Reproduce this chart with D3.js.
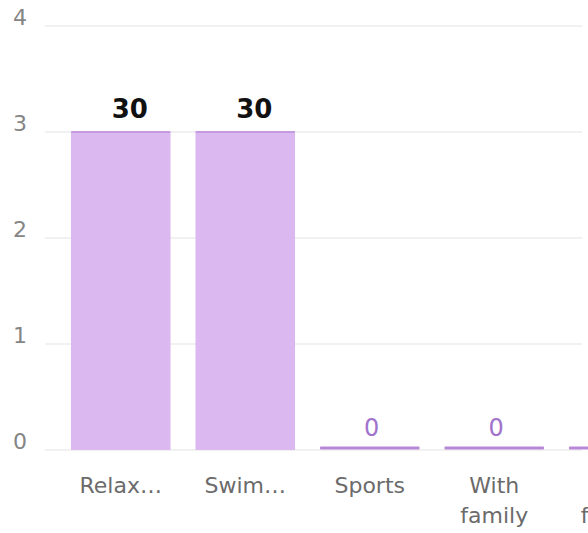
<!DOCTYPE html>
<html>
<head>
<meta charset="utf-8">
<script src="https://cdn.jsdelivr.net/npm/d3@7"></script>
<style>
  html, body { margin: 0; padding: 0; background: #ffffff; }
  svg { display: block; }
</style>
</head>
<body>
<svg id="chart" width="588" height="533"></svg>
<script>
// Activity counts per category
const categories = ["Relax…", "Swim…", "Sports", "With family", "With friends"];
const values = [30, 30, 0, 0, 0];
const tickValues = [0, 10, 20, 30, 40];
const tickLabels = ["0", "1", "2", "3", "4"];

const width = 588, height = 533;
const svg = d3.select("#chart");
const font = "'DejaVu Sans', sans-serif";

const y = d3.scaleLinear().domain([0, 40]).range([450, 26]);
const x = d3.scaleBand()
  .domain(categories)
  .range([58.5, 681])
  .paddingInner(0.2)
  .paddingOuter(0.1);

// horizontal grid lines
svg.append("g")
  .selectAll("line")
  .data(tickValues)
  .join("line")
  .attr("x1", 45)
  .attr("x2", 582)
  .attr("y1", d => y(d))
  .attr("y2", d => y(d))
  .attr("stroke", "#ededed")
  .attr("stroke-width", 1.5);

// y-axis labels
const yAxis = d3.axisLeft(y)
  .tickValues(tickValues)
  .tickFormat((d, i) => tickLabels[i])
  .tickSize(0)
  .tickPadding(0);
const yg = svg.append("g").attr("transform", "translate(20,0)").call(yAxis);
yg.select(".domain").remove();
yg.selectAll("text")
  .attr("text-anchor", "middle")
  .attr("x", 0)
  .attr("dy", "-0.05em")
  .attr("fill", "#858585")
  .style("font-family", font)
  .style("font-size", "22px");

// bars
const bars = svg.append("g");
bars.selectAll("rect.bar")
  .data(values)
  .join("rect")
  .attr("class", "bar")
  .attr("x", (d, i) => x(categories[i]))
  .attr("width", x.bandwidth())
  .attr("y", d => y(d))
  .attr("height", d => y(0) - y(d))
  .attr("fill", "#dcb8f0");

// darker cap on each bar top (visible as a thin line for zero values)
bars.selectAll("rect.cap")
  .data(values)
  .join("rect")
  .attr("class", "cap")
  .attr("x", (d, i) => x(categories[i]))
  .attr("width", x.bandwidth())
  .attr("y", d => (d > 0 ? y(d) - 1 : y(d) - 3.5))
  .attr("height", d => (d > 0 ? 2 : 3))
  .attr("rx", 1)
  .attr("fill", d => (d > 0 ? "#c59ae0" : "#b888d8"));

// value labels
svg.append("g")
  .selectAll("text")
  .data(values)
  .join("text")
  .attr("x", (d, i) => x(categories[i]) + x.bandwidth() / 2 + (d > 0 ? 9 : 2))
  .attr("y", d => y(d) - 14)
  .attr("text-anchor", "middle")
  .attr("fill", d => (d > 0 ? "#111111" : "#a273cc"))
  .style("font-family", font)
  .style("font-weight", d => (d > 0 ? "bold" : "normal"))
  .style("font-size", d => (d > 0 ? "26px" : "24px"))
  .text(d => d);

// category labels, wrapped on spaces
const xl = svg.append("g")
  .selectAll("text")
  .data(categories)
  .join("text")
  .attr("x", d => x(d) + x.bandwidth() / 2)
  .attr("y", 493)
  .attr("text-anchor", "middle")
  .attr("fill", "#6b6b6b")
  .style("font-family", font)
  .style("font-size", "22px");
xl.each(function(d) {
  const t = d3.select(this);
  const cx = +t.attr("x");
  d.split(" ").forEach((w, i) => {
    t.append("tspan")
      .attr("x", cx)
      .attr("dy", i === 0 ? 0 : 30)
      .text(w);
  });
});
</script>
</body>
</html>
